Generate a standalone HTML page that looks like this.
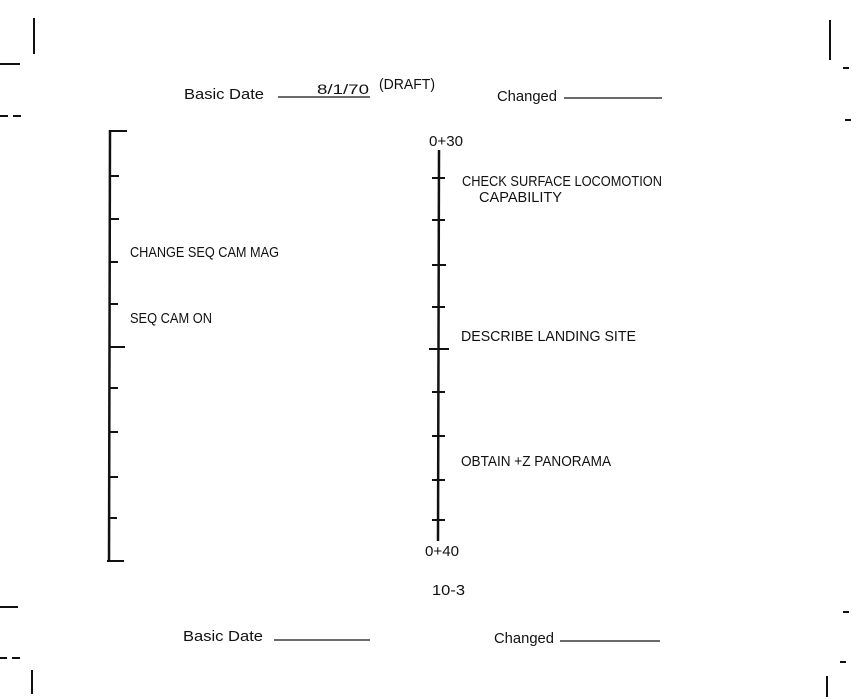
<!DOCTYPE html>
<html><head><style>
body{margin:0;background:#fff;}
svg{display:block;}
text{font-family:"Liberation Sans",sans-serif;fill:#111;}
.m{font-size:15px;}
</style></head><body>
<svg width="866" height="699" viewBox="0 0 866 699">
<g stroke="#111" stroke-width="2" fill="none">
<line x1="34" y1="18" x2="34" y2="54"/>
<line x1="0" y1="64" x2="20" y2="64"/>
<line x1="0" y1="116" x2="8" y2="116"/><line x1="13" y1="116" x2="21" y2="116"/>
<line x1="0" y1="607" x2="18" y2="607"/>
<line x1="0" y1="658" x2="7" y2="658"/><line x1="12" y1="658" x2="20" y2="658"/>
<line x1="32" y1="670" x2="32" y2="694"/>
<line x1="830" y1="20" x2="830" y2="60"/>
<line x1="843" y1="68" x2="849" y2="68"/>
<line x1="845" y1="120" x2="851" y2="120"/>
<line x1="843" y1="612" x2="849" y2="612"/>
<line x1="840" y1="662" x2="846" y2="662"/>
<line x1="827" y1="676" x2="827" y2="697"/>
<line x1="278" y1="97" x2="370" y2="97" stroke-width="1.2"/>
<line x1="564" y1="98" x2="662" y2="98" stroke-width="1.2"/>
<line x1="274" y1="640" x2="370" y2="640" stroke-width="1.2"/>
<line x1="560" y1="641" x2="660" y2="641" stroke-width="1.2"/>
<line x1="110" y1="130" x2="109" y2="562" stroke-width="2.5"/>
<line x1="109" y1="131" x2="127" y2="131"/>
<line x1="109" y1="176" x2="119" y2="176"/>
<line x1="109" y1="219" x2="119" y2="219"/>
<line x1="109" y1="262" x2="118" y2="262"/>
<line x1="109" y1="304" x2="118" y2="304"/>
<line x1="109" y1="347" x2="125" y2="347"/>
<line x1="109" y1="388" x2="118" y2="388"/>
<line x1="109" y1="432" x2="118" y2="432"/>
<line x1="109" y1="477" x2="118" y2="477"/>
<line x1="109" y1="518" x2="117" y2="518"/>
<line x1="107" y1="561" x2="124" y2="561"/>
<line x1="439" y1="150" x2="438" y2="541" stroke-width="2.5"/>
<line x1="432" y1="178" x2="445" y2="178"/>
<line x1="432" y1="220" x2="445" y2="220"/>
<line x1="432" y1="265" x2="446" y2="265"/>
<line x1="432" y1="307" x2="445" y2="307"/>
<line x1="429" y1="349" x2="449" y2="349"/>
<line x1="432" y1="392" x2="445" y2="392"/>
<line x1="432" y1="436" x2="445" y2="436"/>
<line x1="432" y1="480" x2="445" y2="480"/>
<line x1="432" y1="520" x2="445" y2="520"/>
</g>
<text x="184" y="99" font-size="15" textLength="80" lengthAdjust="spacingAndGlyphs">Basic Date</text>
<text x="317" y="94" font-size="14" textLength="52" lengthAdjust="spacingAndGlyphs">8/1/70</text>
<text x="379" y="89" class="m" textLength="56" lengthAdjust="spacingAndGlyphs">(DRAFT)</text>
<text x="497" y="101" font-size="15" textLength="60" lengthAdjust="spacingAndGlyphs">Changed</text>
<text x="130" y="257" class="m" textLength="149" lengthAdjust="spacingAndGlyphs">CHANGE SEQ CAM MAG</text>
<text x="130" y="323" class="m" textLength="82" lengthAdjust="spacingAndGlyphs">SEQ CAM ON</text>
<text x="429" y="146" class="m" textLength="34" lengthAdjust="spacingAndGlyphs">0+30</text>
<text x="462" y="186" class="m" textLength="200" lengthAdjust="spacingAndGlyphs">CHECK SURFACE LOCOMOTION</text>
<text x="479" y="202" class="m" textLength="83" lengthAdjust="spacingAndGlyphs">CAPABILITY</text>
<text x="461" y="341" class="m" textLength="175" lengthAdjust="spacingAndGlyphs">DESCRIBE LANDING SITE</text>
<text x="461" y="466" class="m" textLength="150" lengthAdjust="spacingAndGlyphs">OBTAIN +Z PANORAMA</text>
<text x="425" y="556" class="m" textLength="34" lengthAdjust="spacingAndGlyphs">0+40</text>
<text x="432" y="595" class="m" textLength="33" lengthAdjust="spacingAndGlyphs">10-3</text>
<text x="183" y="641" font-size="15" textLength="80" lengthAdjust="spacingAndGlyphs">Basic Date</text>
<text x="494" y="643" font-size="15" textLength="60" lengthAdjust="spacingAndGlyphs">Changed</text>
</svg>
</body></html>
